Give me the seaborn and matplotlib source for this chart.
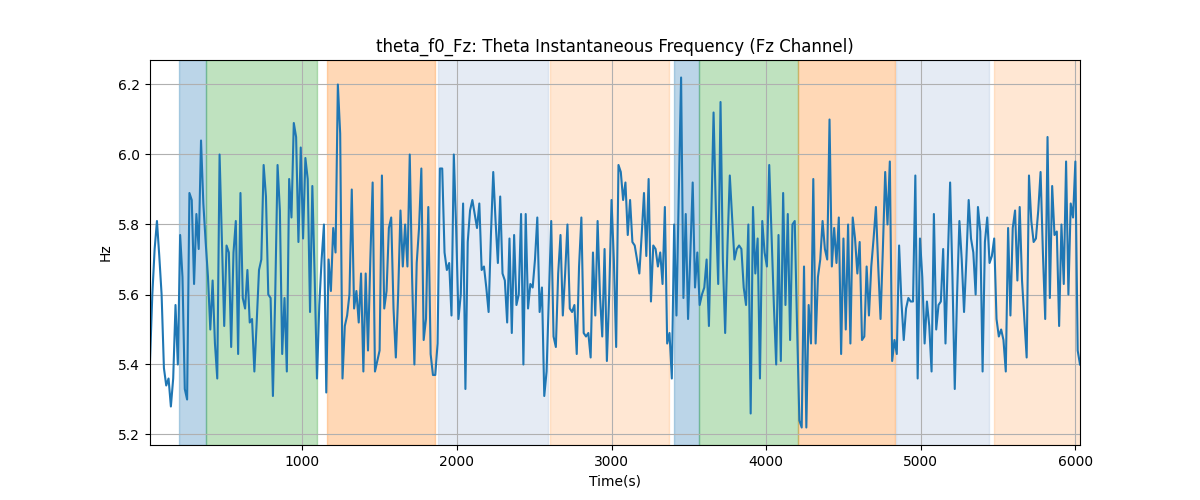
import numpy as np
import pandas as pd
import matplotlib
matplotlib.use("Agg")
import matplotlib.pyplot as plt
import seaborn as sns

# Sampling of the theta f0 estimate (one value every 15 s)
T_START = 15
T_STEP = 15

f0_values = [
    5.41, 5.60, 5.73, 5.81, 5.71, 5.60, 5.39, 5.34, 5.36, 5.28,
    5.36, 5.57, 5.40, 5.77, 5.65, 5.33, 5.30, 5.89, 5.87, 5.63,
    5.83, 5.73, 6.04, 5.86, 5.75, 5.65, 5.50, 5.64, 5.46, 5.36,
    6.00, 5.76, 5.51, 5.74, 5.72, 5.45, 5.72, 5.81, 5.43, 5.89,
    5.59, 5.56, 5.67, 5.52, 5.53, 5.38, 5.52, 5.67, 5.70, 5.97,
    5.88, 5.60, 5.59, 5.31, 5.60, 5.97, 5.84, 5.43, 5.59, 5.38,
    5.93, 5.82, 6.09, 6.05, 5.75, 6.02, 5.76, 5.99, 5.93, 5.55,
    5.91, 5.65, 5.36, 5.57, 5.70, 5.80, 5.32, 5.70, 5.61, 5.79,
    5.72, 6.20, 6.06, 5.36, 5.51, 5.54, 5.60, 5.90, 5.56, 5.61,
    5.52, 5.66, 5.38, 5.66, 5.44, 5.70, 5.92, 5.38, 5.41, 5.44,
    5.94, 5.56, 5.61, 5.79, 5.82, 5.56, 5.42, 5.60, 5.84, 5.68,
    5.80, 5.68, 6.00, 5.65, 5.40, 5.69, 5.79, 5.96, 5.47, 5.53,
    5.85, 5.43, 5.37, 5.37, 5.46, 5.96, 5.96, 5.72, 5.67, 5.69,
    5.54, 6.00, 5.79, 5.53, 5.60, 5.86, 5.33, 5.75, 5.84, 5.87,
    5.83, 5.79, 5.86, 5.67, 5.68, 5.62, 5.55, 5.77, 5.95, 5.81,
    5.69, 5.88, 5.66, 5.64, 5.52, 5.76, 5.49, 5.77, 5.57, 5.60,
    5.83, 5.40, 5.83, 5.56, 5.63, 5.62, 5.70, 5.82, 5.55, 5.62,
    5.31, 5.38, 5.60, 5.81, 5.48, 5.45, 5.66, 5.77, 5.54, 5.66,
    5.80, 5.56, 5.55, 5.57, 5.43, 5.68, 5.82, 5.49, 5.48, 5.49,
    5.42, 5.72, 5.54, 5.81, 5.60, 5.48, 5.73, 5.41, 5.60, 5.87,
    5.70, 5.45, 5.97, 5.95, 5.87, 5.92, 5.77, 5.87, 5.75, 5.74,
    5.70, 5.66, 5.77, 5.89, 5.71, 5.93, 5.58, 5.74, 5.73, 5.68,
    5.72, 5.63, 5.85, 5.46, 5.49, 5.36, 5.80, 5.54, 5.89, 6.22,
    5.59, 5.83, 5.53, 5.72, 5.92, 5.62, 5.72, 5.57, 5.60, 5.62,
    5.70, 5.51, 5.81, 6.12, 5.84, 5.63, 6.15, 5.70, 5.49, 5.74,
    5.94, 5.82, 5.70, 5.73, 5.74, 5.73, 5.62, 5.57, 5.80, 5.26,
    5.85, 5.66, 5.76, 5.36, 5.81, 5.72, 5.68, 5.97, 5.77, 5.57,
    5.40, 5.77, 5.41, 5.89, 5.57, 5.83, 5.47, 5.80, 5.81, 5.51,
    5.24, 5.22, 5.68, 5.22, 5.57, 5.46, 5.93, 5.46, 5.65, 5.70,
    5.81, 5.73, 5.70, 6.10, 5.68, 5.79, 5.69, 5.82, 5.43, 5.76,
    5.50, 5.80, 5.46, 5.82, 5.76, 5.66, 5.75, 5.47, 5.48, 5.68,
    5.54, 5.68, 5.76, 5.85, 5.68, 5.53, 5.73, 5.95, 5.80, 5.98,
    5.41, 5.47, 5.43, 5.74, 5.58, 5.47, 5.56, 5.59, 5.58, 5.58,
    5.94, 5.36, 5.76, 5.65, 5.46, 5.58, 5.51, 5.38, 5.83, 5.50,
    5.57, 5.58, 5.73, 5.46, 5.70, 5.92, 5.65, 5.33, 5.60, 5.81,
    5.70, 5.55, 5.70, 5.87, 5.76, 5.72, 5.60, 5.85, 5.78, 5.38,
    5.75, 5.82, 5.69, 5.71, 5.76, 5.53, 5.48, 5.50, 5.47, 5.38,
    5.79, 5.54, 5.79, 5.84, 5.64, 5.85, 5.64, 5.53, 5.42, 5.94,
    5.81, 5.75, 5.76, 5.84, 5.95, 5.72, 5.53, 6.05, 5.59, 5.91,
    5.77, 5.78, 5.51, 5.80, 5.63, 5.98, 5.60, 5.86, 5.82, 5.98,
    5.44, 5.40,
]

# Task phases shaded behind the trace (seconds)
phase_starts = [200, 377, 1162, 1879, 2603, 3405, 3568, 4208, 4838, 5473]
phase_ends = [377, 1095, 1860, 2586, 3372, 3568, 4208, 4833, 5441, 6100]
phase_kinds = ["A", "B", "C", "D", "E", "A", "B", "C", "D", "E"]

PHASE_STYLE = {
    "A": ("tab:blue", 0.3),
    "B": ("tab:green", 0.3),
    "C": ("tab:orange", 0.3),
    "D": ("lightsteelblue", 0.33),
    "E": ("tab:orange", 0.18),
}


def main():
    times = T_START + T_STEP * np.arange(len(f0_values))
    df = pd.DataFrame({"Time(s)": times, "Hz": f0_values})

    fig, ax = plt.subplots(figsize=(12, 5), dpi=100)

    for start, end, kind in zip(phase_starts, phase_ends, phase_kinds):
        color, alpha = PHASE_STYLE[kind]
        ax.axvspan(start, end, color=color, alpha=alpha)

    sns.lineplot(data=df, x="Time(s)", y="Hz", ax=ax, color="tab:blue", linewidth=1.5)

    ax.set_xlim(times[0], times[-1])
    ax.set_title("theta_f0_Fz: Theta Instantaneous Frequency (Fz Channel)")
    ax.set_xlabel("Time(s)")
    ax.set_ylabel("Hz")
    ax.grid(True)

    plt.savefig("out.png", dpi=100)
    plt.close()


if __name__ == "__main__":
    main()
